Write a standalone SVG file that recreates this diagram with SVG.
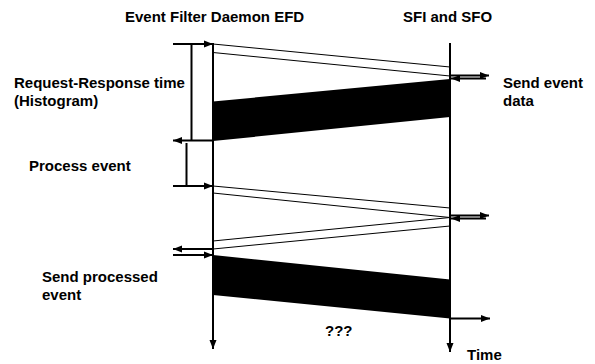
<svg xmlns="http://www.w3.org/2000/svg" width="595" height="364" viewBox="0 0 595 364">
<style>
text{font-family:"Liberation Sans",Arial,sans-serif;font-weight:bold;font-size:15px;fill:#000}
.ax{stroke:#000;stroke-width:2;fill:none}
.thin{stroke:#000;stroke-width:1;fill:none}
.ar{stroke:#000;stroke-width:2;fill:none;marker-end:url(#ah)}
.blk{fill:#000;stroke:none}
</style>
<defs>
<marker id="ah" markerUnits="userSpaceOnUse" markerWidth="10" markerHeight="8" refX="9" refY="4" orient="auto">
<path d="M0,0.5 L9,4 L0,7.5 z" fill="#000"/>
</marker>
</defs>
<g id="labels">
<text x="125" y="22">Event Filter Daemon EFD</text>
<text x="403" y="22">SFI and SFO</text>
<text x="14" y="88">Request-Response time</text>
<text x="14" y="106">(Histogram)</text>
<text x="503" y="88">Send event</text>
<text x="503" y="106">data</text>
<text x="29" y="171">Process event</text>
<text x="42" y="282">Send processed</text>
<text x="42" y="300">event</text>
<text x="325" y="336">???</text>
<text x="467" y="360">Time</text>
</g>
<g id="efd">
<line class="ar" x1="213" y1="43" x2="213" y2="349"/>
</g>
<g id="sfi">
<line class="ar" x1="450" y1="43" x2="450" y2="352"/>
</g>
<g id="messages1">
<line class="thin" x1="213" y1="44" x2="450" y2="67"/>
<line class="thin" x1="213" y1="52.5" x2="450" y2="76"/>
<polygon class="blk" points="213,101.5 450,79 450,117 213,141"/>
</g>
<g id="messages2">
<line class="thin" x1="213" y1="186" x2="450" y2="208"/>
<line class="thin" x1="213" y1="193" x2="450" y2="217.5"/>
<line class="thin" x1="213" y1="241" x2="450" y2="217.5"/>
<line class="thin" x1="213" y1="249" x2="450" y2="226"/>
</g>
<g id="messages3">
<polygon class="blk" points="213,255 450,279.5 450,318.5 213,295"/>
</g>
<g id="connectors">
<line class="ar" x1="173" y1="44" x2="213" y2="44"/>
<line class="ax" x1="191.5" y1="44" x2="191.5" y2="140"/>
<line class="ar" x1="213" y1="140.5" x2="173" y2="140.5"/>
<line class="ax" x1="186.5" y1="143" x2="186.5" y2="186"/>
<line class="ar" x1="173" y1="186" x2="213" y2="186"/>
<line class="ar" x1="451" y1="75.5" x2="489" y2="75.5"/>
<line class="ar" x1="486" y1="78.5" x2="451" y2="78.5"/>
<line class="ar" x1="451" y1="215.5" x2="489" y2="215.5"/>
<line class="ar" x1="486" y1="218.5" x2="451" y2="218.5"/>
<line class="ar" x1="212" y1="249" x2="173" y2="249"/>
<line class="ar" x1="173" y1="255" x2="213" y2="255"/>
<line class="ar" x1="451" y1="318.5" x2="490" y2="318.5"/>
</g>
</svg>
